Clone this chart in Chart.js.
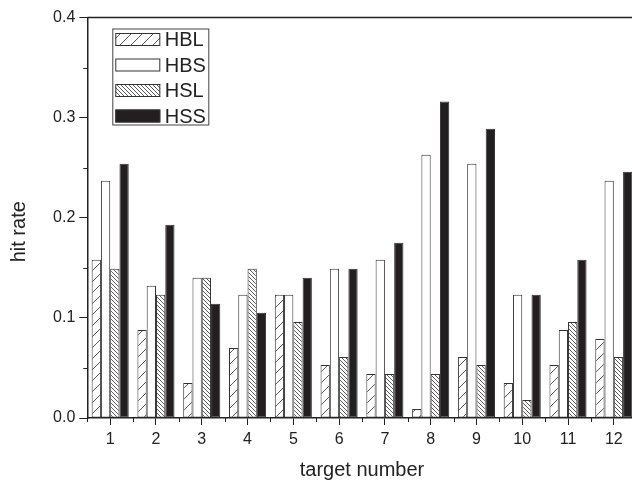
<!DOCTYPE html>
<html>
<head>
<meta charset="utf-8">
<script src="https://cdn.jsdelivr.net/npm/chart.js@4.4.1/dist/chart.umd.min.js"></script>
<style>
  html, body { margin: 0; padding: 0; background: #fff; overflow: hidden; }
  #wrap { position: absolute; left: 0; top: 0; width: 640px; height: 483px; }
</style>
</head>
<body>
<div id="wrap"><canvas id="chartHit" width="640" height="483"></canvas></div>
<script>
const targets = ['1', '2', '3', '4', '5', '6', '7', '8', '9', '10', '11', '12'];
const hbl = [0.158, 0.088, 0.035, 0.070, 0.123, 0.053, 0.044, 0.009, 0.061, 0.035, 0.053, 0.079];
const hbs = [0.237, 0.132, 0.140, 0.123, 0.123, 0.149, 0.158, 0.263, 0.254, 0.123, 0.088, 0.237];
const hsl = [0.149, 0.123, 0.140, 0.149, 0.096, 0.061, 0.044, 0.044, 0.053, 0.018, 0.096, 0.061];
const hss = [0.254, 0.193, 0.114, 0.105, 0.140, 0.149, 0.175, 0.316, 0.289, 0.123, 0.158, 0.246];
const yTicks = [0, 0.1, 0.2, 0.3, 0.4];
const yMinorTicks = [0.05, 0.15, 0.25, 0.35];

const FONT = '"Liberation Sans", Arial, sans-serif';
const INK = '#222';

// diagonal hatch tile, dir 1 = "/" and -1 = "\"
function hatch(size, dir, color, width) {
    const c = document.createElement('canvas');
    c.width = size;
    c.height = size;
    const g = c.getContext('2d');
    g.fillStyle = '#fff';
    g.fillRect(0, 0, size, size);
    g.strokeStyle = color;
    g.lineWidth = width;
    g.beginPath();
    for (let k = -1; k <= 1; k++) {
        if (dir > 0) {
            g.moveTo(k * size - 1, size + 1);
            g.lineTo(k * size + size + 1, -1);
        } else {
            g.moveTo(k * size - 1, -1);
            g.lineTo(k * size + size + 1, size + 1);
        }
    }
    g.stroke();
    return g.createPattern(c, 'repeat');
}

const fwdHatch = hatch(11, 1, '#444', 0.9);
const backHatch = hatch(4, -1, '#333', 0.8);

// axis frame, minor ticks, y title and boxed legend
const framePlugin = {
    id: 'frame',
    afterDraw(chart) {
        const ctx = chart.ctx;
        const a = chart.chartArea;
        const x = chart.scales.x;
        const y = chart.scales.y;
        ctx.save();
        ctx.strokeStyle = INK;
        ctx.lineWidth = 1.5;
        ctx.beginPath();
        ctx.moveTo(a.left, a.top);
        ctx.lineTo(a.right, a.top);
        ctx.lineTo(a.right, a.bottom);
        ctx.stroke();

        ctx.lineWidth = 1;
        ctx.beginPath();
        yMinorTicks.forEach(v => {
            const py = Math.round(y.getPixelForValue(v)) + 0.5;
            ctx.moveTo(a.left - 4, py);
            ctx.lineTo(a.left, py);
        });
        for (let i = 0; i <= targets.length; i++) {
            const px = Math.round(x.getPixelForValue(i - 0.5)) + 0.5;
            ctx.moveTo(px, a.bottom);
            ctx.lineTo(px, a.bottom + 4);
        }
        ctx.stroke();

        // y axis title, sits a little below the middle of the axis
        ctx.save();
        ctx.translate(19.5, (a.top + a.bottom) / 2 + 14);
        ctx.rotate(-Math.PI / 2);
        ctx.font = '20px ' + FONT;
        ctx.textAlign = 'center';
        ctx.textBaseline = 'middle';
        ctx.fillStyle = INK;
        ctx.fillText('hit rate', 0, 0);
        ctx.restore();

        // legend
        const lx = a.left + 25;
        const ly = a.top + 11;
        ctx.strokeStyle = '#444';
        ctx.lineWidth = 1;
        ctx.strokeRect(lx + 0.5, ly + 0.5, 96, 96);
        ctx.font = '20px ' + FONT;
        ctx.textBaseline = 'middle';
        chart.data.datasets.forEach((ds, i) => {
            const top = ly + 4.5 + i * 25.5;
            ctx.fillStyle = ds.backgroundColor;
            ctx.fillRect(lx + 3, top, 45, 13);
            ctx.strokeStyle = '#333';
            ctx.strokeRect(lx + 3.5, top + 0.5, 44, 12);
            ctx.fillStyle = INK;
            ctx.fillText(ds.label, lx + 52.5, top + 7.5);
        });
        ctx.restore();
    }
};

const ctx = document.getElementById('chartHit').getContext('2d');
new Chart(ctx, {
    type: 'bar',
    data: {
        labels: targets,
        datasets: [
            { label: 'HBL', data: hbl, backgroundColor: fwdHatch },
            { label: 'HBS', data: hbs, backgroundColor: '#fff' },
            { label: 'HSL', data: hsl, backgroundColor: backHatch },
            { label: 'HSS', data: hss, backgroundColor: '#231f20' }
        ].map(d => Object.assign(d, {
            borderColor: '#333',
            borderWidth: 1,
            borderSkipped: false,
            categoryPercentage: 0.81,
            barPercentage: 1.0
        }))
    },
    options: {
        responsive: false,
        animation: false,
        events: [],
        layout: { padding: { top: 17.5, right: 3.3, left: 0, bottom: 0 } },
        plugins: {
            legend: { display: false },
            tooltip: { enabled: false }
        },
        scales: {
            x: {
                offset: true,
                grid: { display: true, drawOnChartArea: false, offset: false, tickLength: 7, color: INK, lineWidth: 1 },
                border: { display: true, color: INK, width: 1.5 },
                ticks: { color: INK, padding: 5, font: { family: FONT, size: 16 } },
                title: { display: true, text: 'target number', color: INK, font: { family: FONT, size: 20 }, padding: { top: 0, bottom: 1 } },
                afterFit(scale) { scale.height = 65; }
            },
            y: {
                min: 0,
                max: 0.4,
                afterBuildTicks(scale) { scale.ticks = yTicks.map(v => ({ value: v })); },
                grid: { display: true, drawOnChartArea: false, tickLength: 8, color: INK, lineWidth: 1 },
                border: { display: true, color: INK, width: 1.5 },
                ticks: { color: INK, padding: 4, font: { family: FONT, size: 16 }, callback: v => v.toFixed(1) },
                afterFit(scale) { scale.width = 87.3; }
            }
        }
    },
    plugins: [framePlugin]
});
</script>
</body>
</html>
